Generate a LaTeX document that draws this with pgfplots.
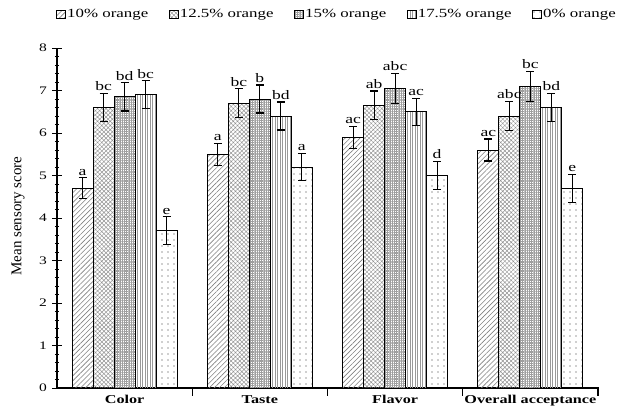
\documentclass[border=0pt]{standalone}
\usepackage{fontspec}
\setmainfont[FakeStretch=1.35]{Liberation Serif}
\newfontfamily\plainserif{Liberation Serif}
\usepackage{pgfplots}
\pgfplotsset{compat=1.18}
\usepackage{pgfplotstable}
\usetikzlibrary{patterns,patterns.meta}

\pgfplotstableread{
x y err lab
0 4.70 0.25 a
1 5.50 0.26 a
2 5.90 0.26 ac
3 5.60 0.26 ac
}\sA
\pgfplotstableread{
x y err lab
0 6.60 0.33 bc
1 6.70 0.34 bc
2 6.65 0.34 ab
3 6.40 0.34 abc
}\sB
\pgfplotstableread{
x y err lab
0 6.85 0.33 bd
1 6.80 0.33 b
2 7.05 0.35 abc
3 7.10 0.35 bc
}\sC
\pgfplotstableread{
x y err lab
0 6.90 0.33 bc
1 6.40 0.33 bd
2 6.50 0.32 ac
3 6.60 0.33 bd
}\sD
\pgfplotstableread{
x y err lab
0 3.70 0.33 e
1 5.20 0.32 a
2 5.00 0.33 d
3 4.70 0.33 e
}\sE

\begin{document}
\begin{tikzpicture}
\begin{axis}[
  at={(0,0)}, anchor=south west,
  scale only axis, width=541pt, height=340pt,
  xmin=-0.5, xmax=3.5, ymin=0, ymax=8,
  axis x line*=bottom, axis y line*=left,
  axis line style={line width=1.4pt, black},
  ybar=0pt, bar width=21pt,
  xtick={0.5,1.5,2.5,3.5}, xticklabels={},
  x tick style={yshift=-3pt, line width=1.1pt, black},
  extra x ticks={0,1,2,3},
  extra x tick labels={Color,Taste,Flavor,Overall acceptance},
  extra x tick style={major tick length=0pt, tick style={draw=none},
     ticklabel style={font=\bfseries\fontsize{12}{12}\selectfont, yshift=-4pt}},
  ytick={0,1,...,8}, minor y tick num=4,
  tick align=center, major tick length=9pt, minor tick length=4pt,
  y tick style={line width=1pt, black},
  /pgf/number format/assume math mode=true,
  yticklabel style={font=\fontsize{11.5}{11.5}\selectfont, xshift=-2pt},
  ylabel={Mean sensory score},
  ylabel style={font=\plainserif\fontsize{15}{15}\selectfont, at={(axis description cs:-0.072,0.506)}, anchor=center},
  legend columns=5,
  legend style={draw=none, fill=none, inner sep=0pt, at={(axis description cs:-0.002,1.1)}, anchor=west,
     font=\fontsize{12.5}{12.5}\selectfont,
     /tikz/every even column/.append style={column sep=19pt},
     nodes={inner sep=1.5pt}},
  legend image code/.code={\draw[#1, draw=black, line width=0.6pt] (0pt,-4pt) rectangle (9pt,4pt);},
  every axis plot/.append style={draw=black, line width=0.9pt},
  error bars/y dir=both, error bars/y explicit,
  error bars/error bar style={line width=1.2pt, black},
  error bars/error mark options={rotate=90, mark size=4pt, line width=1.2pt, black},
  nodes near coords, point meta=explicit symbolic,
  visualization depends on={\thisrow{err} \as \myerr},
  nodes near coords style={font=\fontsize{13}{13}\selectfont, black, yshift={\myerr*42.5pt}, inner sep=2pt},
]
\addplot[pattern={Lines[angle=45,distance=3.5pt,line width=0.6pt]}, pattern color=gray] table[x=x,y=y,y error=err,meta=lab]{\sA};
\addlegendentry{10\% orange}
\addplot[pattern={Hatch[angle=45,distance=3pt,line width=0.5pt]}, pattern color=gray!85] table[x=x,y=y,y error=err,meta=lab]{\sB};
\addlegendentry{12.5\% orange}
\addplot[pattern={Hatch[angle=0,distance=1.8pt,line width=0.6pt]}, pattern color=gray!75] table[x=x,y=y,y error=err,meta=lab]{\sC};
\addlegendentry{15\% orange}
\addplot[pattern={Lines[angle=90,distance=2.5pt,line width=0.8pt]}, pattern color=gray!80] table[x=x,y=y,y error=err,meta=lab]{\sD};
\addlegendentry{17.5\% orange}
\addplot[pattern={Dots[distance=6pt,radius=0.8pt]}, pattern color=gray!75] table[x=x,y=y,y error=err,meta=lab]{\sE};
\addlegendentry{0\% orange}
\end{axis}
\pgfresetboundingbox
\path (-57pt,-26pt) rectangle (560pt,388pt);
\end{tikzpicture}
\end{document}
